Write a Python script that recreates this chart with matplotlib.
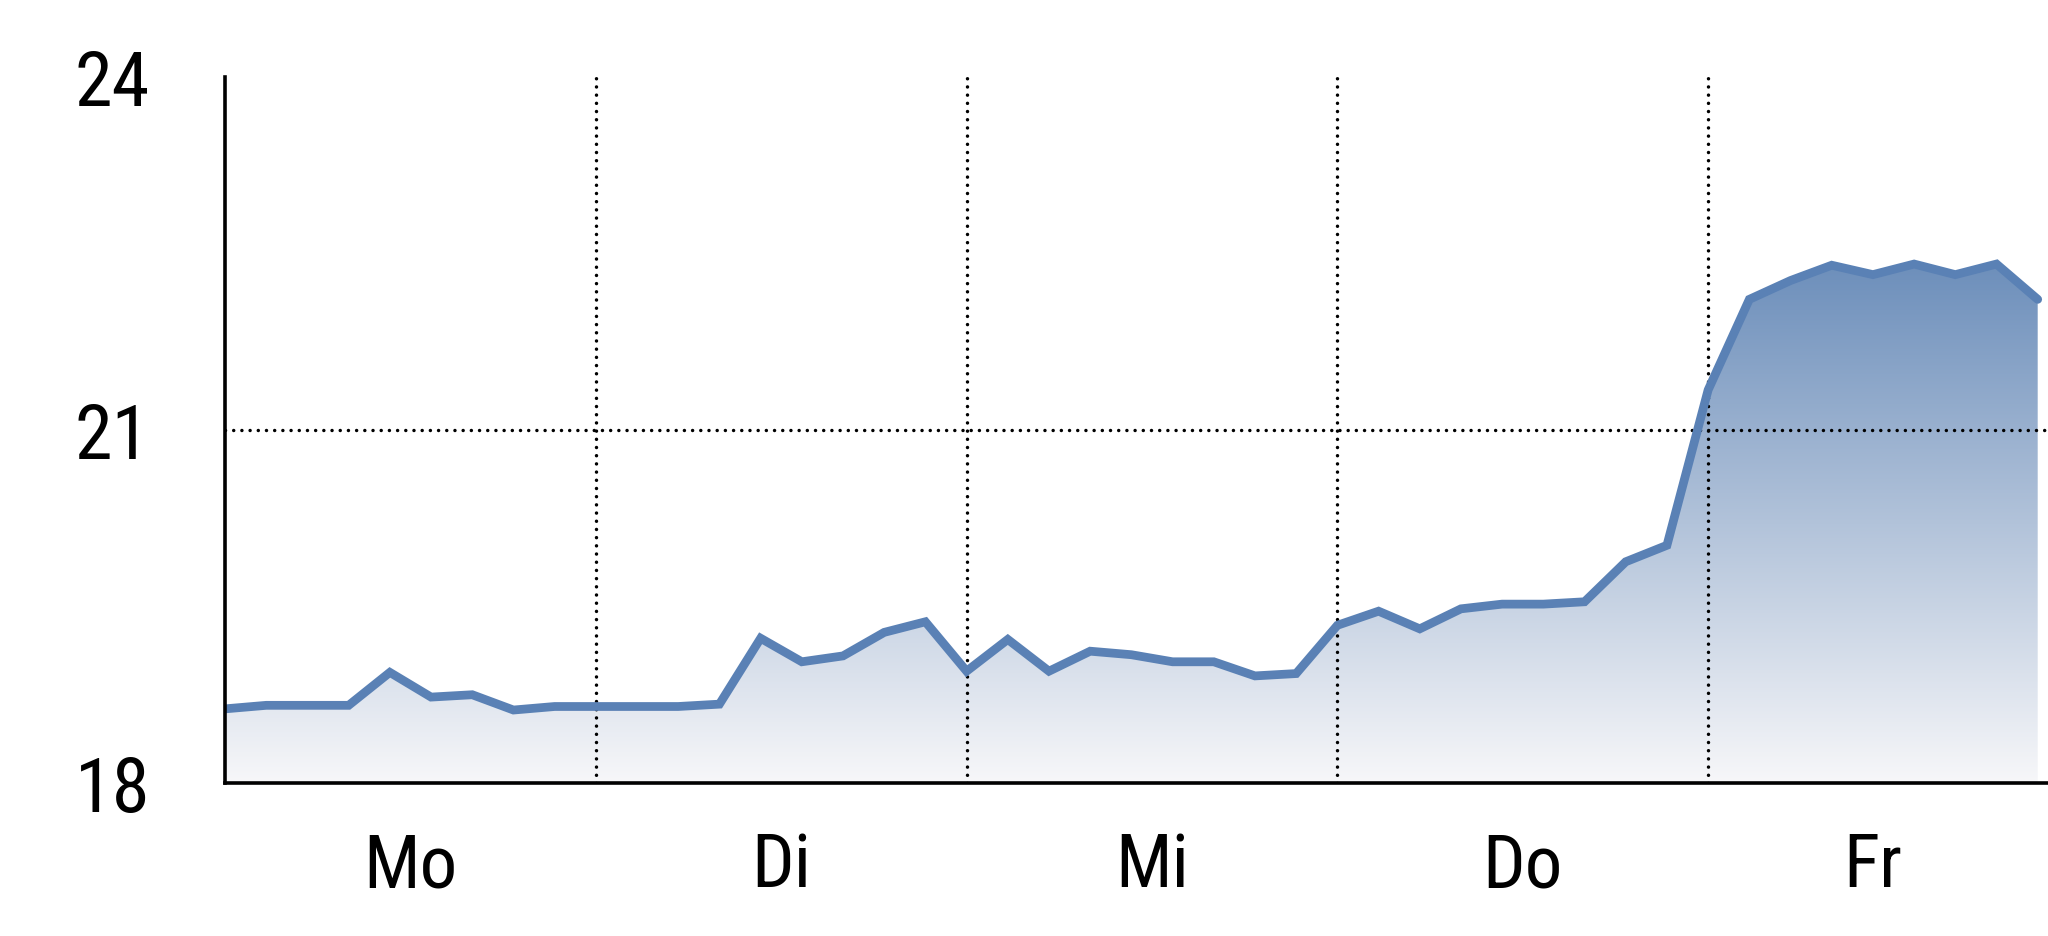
import matplotlib
matplotlib.use('Agg')
import matplotlib.pyplot as plt
import numpy as np
from matplotlib.colors import LinearSegmentedColormap

# temperature readings, 9 per day (Mo..Fr)
temps = [18.63, 18.66, 18.66, 18.66, 18.94, 18.73, 18.75, 18.62, 18.65,
         18.65, 18.65, 18.65, 18.67, 19.23, 19.03, 19.08, 19.28, 19.37,
         18.95, 19.22, 18.95, 19.12, 19.09, 19.03, 19.03, 18.91, 18.93,
         19.34, 19.46, 19.31, 19.48, 19.52, 19.52, 19.54, 19.88, 20.02,
         21.34, 22.11, 22.27, 22.40, 22.32, 22.41, 22.32, 22.41, 22.11]
day_labels = ['Mo', 'Di', 'Mi', 'Do', 'Fr']
day_label_pos = [4.5, 13.5, 22.5, 31.5, 40]
day_bounds = [9, 18, 27, 36]
y_ticks = [18, 21, 24]

plt.rcParams['font.family'] = ['Roboto Condensed', 'Liberation Sans', 'DejaVu Sans']

LINE = '#5a81b5'
x = np.arange(len(temps))
y = np.array(temps)

fig = plt.figure(figsize=(20.48, 9.37), dpi=100)
ax = fig.add_axes([0.1099, 0.1633, 0.8901, 0.7535])

# gradient fill under the line
poly = ax.fill_between(x, y, 18, color='none', lw=0)
cmap = LinearSegmentedColormap.from_list('fill', ['#f7f7f9', '#6d8fbb'])
grad = np.linspace(0, 1, 256).reshape(-1, 1)
img = ax.imshow(grad, cmap=cmap, origin='lower', aspect='auto',
                extent=[0, x[-1], 18, y.max()], zorder=1)
img.set_clip_path(poly.get_paths()[0], transform=ax.transData)
ax.set_xlim(0, 44.25)
ax.set_ylim(18, 24)

dots = dict(color='black', lw=2.5, linestyle=(0, (0.01, 2.35)),
            dash_capstyle='round', zorder=2)
for b in day_bounds:
    ax.axvline(b, **dots)
ax.axhline(21, **dots)

ax.plot(x, y, color=LINE, lw=6.3, solid_capstyle='round',
        solid_joinstyle='miter', zorder=3)

for s in ['top', 'right']:
    ax.spines[s].set_visible(False)
for s in ['left', 'bottom']:
    ax.spines[s].set_linewidth(2.6)
    ax.spines[s].set_zorder(4)

ax.set_yticks(y_ticks)
ax.set_yticklabels([str(t) for t in y_ticks])
ax.set_xticks(day_label_pos)
ax.set_xticklabels(day_labels)
ax.tick_params(axis='y', length=0, pad=54, labelsize=55)
ax.tick_params(axis='x', length=0, pad=34, labelsize=54)

fig.savefig('out.png', dpi=100, facecolor='white')
